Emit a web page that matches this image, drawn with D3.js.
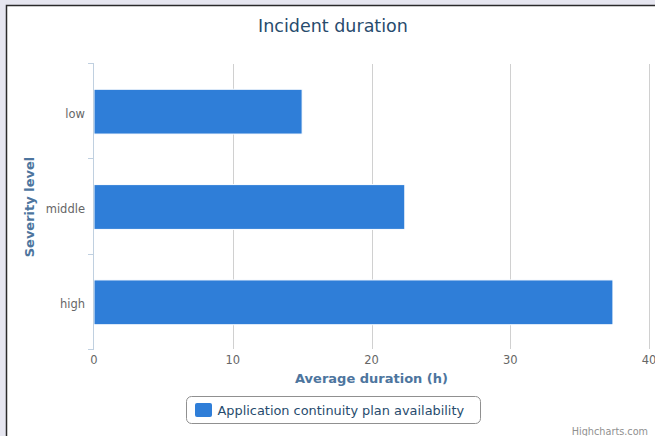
<!DOCTYPE html>
<html>
<head>
<meta charset="utf-8">
<script src="https://cdn.jsdelivr.net/npm/d3@7"></script>
<style>
  body { margin: 0; background: #e6e6f0; }
  svg { display: block; font-family: "DejaVu Sans", Verdana, sans-serif; }
</style>
</head>
<body>
<svg id="chart"></svg>
<script>
var width = 655;
var height = 436;

// data
var categories = ["low", "middle", "high"];
var durations = [15, 22.4, 37.4];
var seriesName = "Application continuity plan availability";
var xTicks = [0, 10, 20, 30, 40];

var svg = d3.select("#chart")
  .attr("width", width)
  .attr("height", height);

// page frame
svg.append("rect")
  .attr("x", 0).attr("y", 0)
  .attr("width", width).attr("height", height)
  .attr("fill", "#e6e6f0");

svg.append("rect")
  .attr("x", 6.5).attr("y", 5.5)
  .attr("width", 700).attr("height", 500)
  .attr("fill", "white")
  .attr("stroke", "#2a2a2a")
  .attr("stroke-width", 1.5);

var x = d3.scaleLinear()
  .domain([0, 40])
  .range([94, 649]);

var y = d3.scaleBand()
  .domain(categories)
  .range([64, 350]);

// title
svg.append("text")
  .attr("x", 333)
  .attr("y", 32)
  .attr("text-anchor", "middle")
  .attr("fill", "#274b6d")
  .style("font-size", "17.5px")
  .text("Incident duration");

// grid
svg.append("g")
  .selectAll("line")
  .data(xTicks.slice(1))
  .enter().append("line")
  .attr("x1", function(d) { return Math.round(x(d)) + 0.5; })
  .attr("x2", function(d) { return Math.round(x(d)) + 0.5; })
  .attr("y1", 64)
  .attr("y2", 349)
  .attr("stroke", "#d0d0d0")
  .attr("stroke-width", 1);

// x labels
svg.append("g")
  .selectAll("text")
  .data(xTicks)
  .enter().append("text")
  .attr("x", function(d) { return x(d); })
  .attr("y", 364)
  .attr("text-anchor", "middle")
  .attr("fill", "#666")
  .style("font-size", "11.5px")
  .text(function(d) { return d; });

// bars
var barH = y.bandwidth() * 0.47;
svg.append("g")
  .selectAll("rect")
  .data(durations)
  .enter().append("rect")
  .attr("x", x(0))
  .attr("y", function(d, i) { return y(categories[i]) + (y.bandwidth() - barH) / 2; })
  .attr("width", function(d) { return x(d) - x(0); })
  .attr("height", barH)
  .attr("fill", "#2f7ed8")
  .attr("stroke", "white")
  .attr("stroke-width", 1);

// y axis line and boundary ticks
var yEdges = categories.map(function(c) { return y(c); }).concat([y.range()[1]]);
svg.append("line")
  .attr("x1", 93.5).attr("x2", 93.5)
  .attr("y1", 64).attr("y2", 350)
  .attr("stroke", "#c0d0e0")
  .attr("stroke-width", 1);

svg.append("g")
  .selectAll("line")
  .data(yEdges)
  .enter().append("line")
  .attr("x1", 88).attr("x2", 94)
  .attr("y1", function(d) { return Math.round(d) - 0.5; })
  .attr("y2", function(d) { return Math.round(d) - 0.5; })
  .attr("stroke", "#c0d0e0")
  .attr("stroke-width", 1);

// y labels
svg.append("g")
  .selectAll("text")
  .data(categories)
  .enter().append("text")
  .attr("x", 85)
  .attr("y", function(d) { return y(d) + y.bandwidth() / 2 + 6; })
  .attr("text-anchor", "end")
  .attr("fill", "#666")
  .style("font-size", "11.5px")
  .text(function(d) { return d; });

// axis titles
svg.append("text")
  .attr("x", (x.range()[0] + x.range()[1]) / 2)
  .attr("y", 383)
  .attr("text-anchor", "middle")
  .attr("fill", "#4d759e")
  .style("font-size", "13px")
  .style("font-weight", "bold")
  .text("Average duration (h)");

svg.append("text")
  .attr("transform", "translate(34," + ((y.range()[0] + y.range()[1]) / 2) + ") rotate(-90)")
  .attr("text-anchor", "middle")
  .attr("fill", "#4d759e")
  .style("font-size", "13px")
  .style("font-weight", "bold")
  .text("Severity level");

// legend
var legend = svg.append("g");
legend.append("rect")
  .attr("x", 186.5).attr("y", 396.5)
  .attr("width", 294).attr("height", 27)
  .attr("rx", 5)
  .attr("fill", "white")
  .attr("stroke", "#909090")
  .attr("stroke-width", 1);
legend.append("rect")
  .attr("x", 195).attr("y", 403)
  .attr("width", 17).attr("height", 14)
  .attr("rx", 2)
  .attr("fill", "#2f7ed8");
legend.append("text")
  .attr("x", 217.5)
  .attr("y", 414.5)
  .attr("fill", "#274b6d")
  .style("font-size", "12.9px")
  .text(seriesName);

// credits
svg.append("text")
  .attr("x", 648)
  .attr("y", 434.5)
  .attr("text-anchor", "end")
  .attr("fill", "#909090")
  .style("font-size", "9.7px")
  .text("Highcharts.com");
</script>
</body>
</html>
